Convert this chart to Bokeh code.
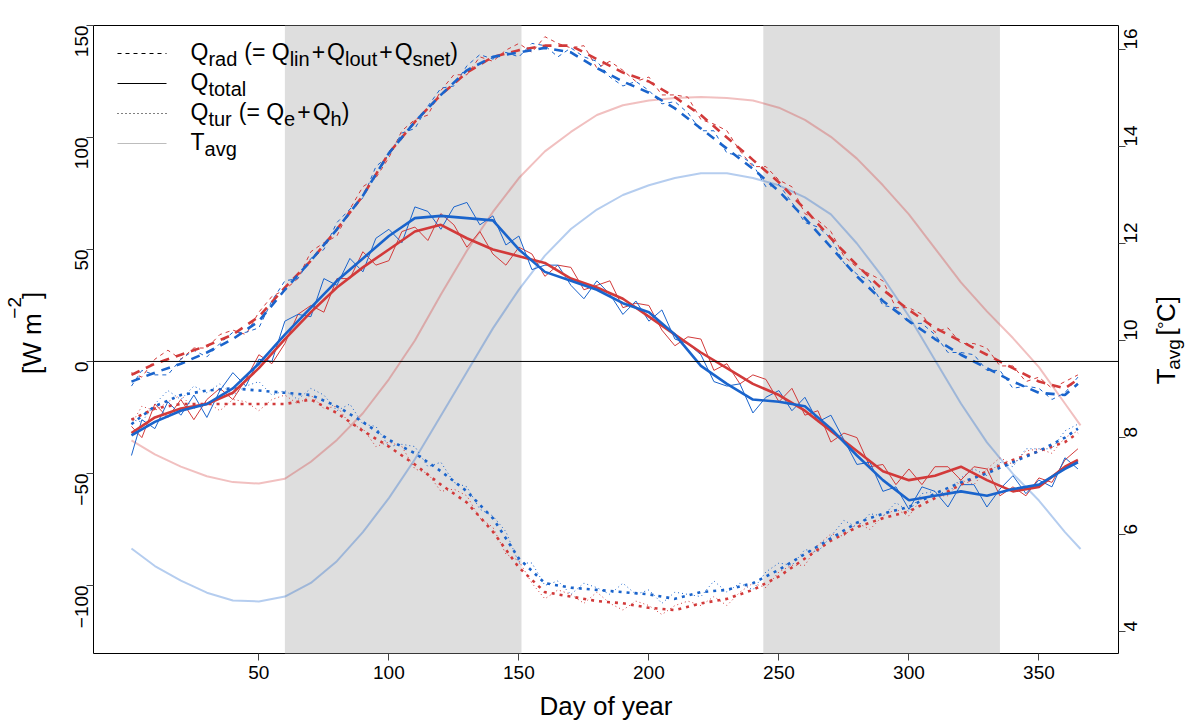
import math
from bokeh.plotting import figure
from bokeh.layouts import row, column
from bokeh.models import Range1d, LinearAxis, Span, BoxAnnotation, Label, FixedTicker, Plot
from bokeh.embed import file_html
from bokeh.resources import INLINE

# ---------------- data ----------------
season_start = [60, 244]
season_end = [151, 335]

days_smooth = [1] + list(range(10, 361, 10)) + [365]
days_temp = [1] + list(range(10, 361, 10)) + [366]
days_daily = [1] + list(range(5, 366, 5))

qrad_red_smooth = [-6, -1, 3, 7, 12, 20, 33, 45, 59, 74, 93, 107, 119, 129, 136, 139, 141, 141, 135, 129,
                   125, 118, 110, 100, 90, 80, 68, 55, 43, 32, 23, 15, 9, 3, -3, -9, -12, -8]
qrad_blue_smooth = [-9, -5, -1, 4, 10, 18, 32, 45, 59, 74, 93, 107, 119, 130, 136, 138, 140, 138, 131, 125,
                    120, 113, 104, 95, 86, 76, 64, 51, 38, 27, 18, 10, 3, -3, -9, -14, -15, -10]
qtot_blue_smooth = [-33, -27, -22, -19, -12, -1, 12, 24, 36, 46, 56, 64, 65, 64, 63, 50, 40, 36, 32, 26,
                    22, 12, -2, -10, -17, -18, -20, -30, -42, -53, -62, -60, -58, -60, -57, -55, -48, -45]
qtot_red_smooth = [-32, -25, -21, -19, -14, -3, 10, 22, 33, 42, 50, 58, 61, 55, 50, 47, 44, 37, 33, 28,
                   20, 12, 4, -3, -10, -15, -22, -31, -40, -49, -53, -51, -47, -53, -58, -56, -47, -44]
qtur_blue_smooth = [-28, -20, -15, -13, -12, -13, -14, -15, -20, -27, -35, -41, -49, -58, -70, -88, -99, -101, -102, -103,
                    -104, -106, -103, -102, -99, -93, -86, -79, -72, -68, -65, -59, -54, -50, -45, -40, -34, -30]
qtur_red_smooth = [-26, -21, -19, -19, -19, -19, -19, -17, -23, -31, -38, -46, -55, -63, -76, -92, -103, -105, -107, -108,
                   -110, -111, -108, -106, -102, -96, -88, -80, -74, -70, -67, -61, -55, -49, -44, -40, -36, -32]

tavg_blue = [5.71, 5.35, 5.05, 4.8, 4.64, 4.62, 4.72, 5.0, 5.45, 6.05, 6.75, 7.55, 8.45, 9.35, 10.25, 11.05,
             11.75, 12.3, 12.7, 13.0, 13.2, 13.35, 13.45, 13.45, 13.35, 13.2, 12.95, 12.6, 12.0, 11.3, 10.5,
             9.6, 8.7, 7.9, 7.25, 6.7, 6.05, 5.7]
tavg_red = [7.94, 7.65, 7.4, 7.2, 7.08, 7.05, 7.15, 7.5, 7.95, 8.5, 9.2, 10.0, 10.95, 11.85, 12.65, 13.35,
            13.9, 14.3, 14.65, 14.85, 14.95, 15.0, 15.02, 15.0, 14.95, 14.8, 14.55, 14.2, 13.75, 13.2, 12.6,
            11.9, 11.2, 10.6, 10.05, 9.45, 8.7, 8.25]

qrad_red_daily = [-5, -7, 1, 5, 1, 6, 6, 12, 14, 12,
                  22, 29, 32, 37, 49, 53, 56, 68, 78, 82,
                  91, 103, 108, 110, 121, 128, 128, 136, 134, 139,
                  142, 138, 145, 142, 140, 141, 131, 134, 130, 125,
                  127, 119, 119, 118, 108, 106, 103, 94, 87, 87,
                  81, 78, 66, 63, 58, 47, 42, 39, 36, 24,
                  24, 21, 13, 15, 8, 8, 6, -2, -2, -9,
                  -7, -12, -9, -6]
qrad_blue_daily = [-11, -4, -6, -6, 1, 5, 2, 8, 13, 13,
                   15, 27, 36, 37, 46, 50, 62, 68, 73, 87,
                   92, 102, 104, 114, 122, 123, 132, 137, 135, 138,
                   136, 142, 141, 136, 140, 136, 134, 127, 123, 125,
                   121, 115, 116, 111, 103, 103, 93, 92, 88, 78,
                   79, 71, 62, 60, 55, 44, 39, 36, 25, 24,
                   17, 17, 12, 4, 4, 3, -4, -4, -12, -11,
                   -12, -17, -14, -7]
qtot_blue_daily = [-42, -26, -30, -18, -24, -15, -25, -13, -5, -11,
                   1, 0, 18, 21, 20, 37, 34, 46, 40, 55,
                   59, 53, 69, 67, 59, 69, 71, 61, 65, 52,
                   56, 41, 43, 43, 34, 28, 36, 30, 21, 27,
                   18, 23, 10, 8, 3, -9, -11, -10, -23, -16,
                   -13, -22, -16, -27, -24, -35, -46, -45, -58, -56,
                   -66, -56, -58, -65, -55, -55, -65, -57, -51, -59,
                   -53, -56, -43, -48]
qtot_red_daily = [-29, -34, -19, -25, -17, -26, -17, -12, -17, -8,
                  3, -1, 8, 21, 25, 22, 37, 37, 49, 43,
                  45, 58, 60, 54, 66, 61, 51, 58, 48, 43,
                  51, 48, 38, 43, 42, 32, 34, 36, 24, 26,
                  25, 14, 7, 11, 10, -4, -1, -10, -6, -8,
                  -18, -12, -24, -22, -36, -32, -34, -47, -46, -55,
                  -48, -55, -47, -47, -53, -47, -48, -60, -56, -60,
                  -52, -54, -44, -39]
qtur_blue_daily = [-26, -27, -19, -13, -17, -11, -14, -10, -15, -11,
                   -9, -15, -13, -17, -12, -15, -22, -19, -28, -29,
                   -38, -37, -38, -47, -45, -54, -56, -66, -69, -76,
                   -90, -90, -100, -98, -104, -99, -101, -104, -99, -104,
                   -102, -108, -103, -104, -105, -98, -103, -99, -102, -94,
                   -90, -91, -84, -85, -78, -71, -74, -68, -69, -63,
                   -67, -59, -58, -59, -52, -48, -51, -45, -47, -39,
                   -39, -39, -31, -28]
qtur_red_daily = [-28, -20, -22, -18, -15, -21, -18, -22, -17, -18,
                  -22, -17, -15, -19, -15, -21, -20, -28, -30, -38,
                  -36, -38, -48, -50, -58, -57, -60, -70, -74, -86,
                  -89, -99, -106, -102, -104, -108, -103, -108, -111, -107,
                  -109, -113, -109, -107, -109, -105, -109, -103, -99, -101,
                  -94, -91, -91, -82, -77, -78, -72, -75, -69, -66,
                  -69, -61, -60, -60, -53, -55, -48, -43, -46, -40,
                  -39, -41, -34, -31]

x_ticks = [50, 100, 150, 200, 250, 300, 350]
y_ticks = [-100, -50, 0, 50, 100, 150]
t_ticks = [4, 6, 8, 10, 12, 14, 16]

# ---------------- styling / layout ----------------
FONT = "Liberation Sans"
BLUE = "#1a64cc"
RED = "#d23a3a"
X0, X1 = -13.6, 380.6
Y0, Y1 = -130.4, 150.0
T0, T1 = 3.546, 16.495
FL, FR, FT, FB = 93, 1118, 25, 653  # frame edges in page pixels
LEFT_W = 50          # width of the left title strip
MAIN_BL, MAIN_BR, MAIN_BB = FL - LEFT_W, 34, 37
MAIN_W = MAIN_BL + (FR - FL) + MAIN_BR
RIGHT_X = LEFT_W + MAIN_W
RIGHT_W = 1186 - RIGHT_X
MAIN_H = FT + (FB - FT) + MAIN_BB
BOTTOM_H = 724 - MAIN_H
BASE_FIX = 0.4       # label anchor correction (fraction of the font size)


def dx(px):
    return X0 + (px - FL) / (FR - FL) * (X1 - X0)


def dy(py):
    return Y1 - (py - FT) / (FB - FT) * (Y1 - Y0)


WM = {'Q': 778, 'r': 333, 'a': 556, 'd': 556, ' ': 278, '(': 333, '=': 584, 'l': 222, 'i': 222,
      'n': 556, '+': 584, 'o': 556, 'u': 556, 't': 278, 's': 500, 'e': 556, ')': 333, 'h': 556,
      'T': 611, 'v': 500, 'g': 556, '[': 278, ']': 278, 'W': 944, 'm': 833, '\u2212': 584,
      '2': 556, '\u00b0': 400, 'C': 722, 'D': 722, 'y': 500, 'f': 278}


def tw(s, size):
    return sum(WM.get(c, 556) for c in s) * size / 1000.0


p = figure(frame_width=FR - FL, frame_height=FB - FT,
           x_range=Range1d(X0, X1), y_range=Range1d(Y0, Y1),
           output_backend="svg", toolbar_location=None,
           min_border_left=MAIN_BL, min_border_right=MAIN_BR, min_border_top=FT, min_border_bottom=MAIN_BB)
p.extra_y_ranges = {"T": Range1d(T0, T1)}
p.xgrid.visible = False
p.ygrid.visible = False
p.outline_line_color = "black"
p.outline_line_width = 1
p.background_fill_color = "white"
p.border_fill_color = "white"

p.xaxis.ticker = FixedTicker(ticks=x_ticks)
p.yaxis.ticker = FixedTicker(ticks=y_ticks)
axR = LinearAxis(y_range_name="T", ticker=FixedTicker(ticks=t_ticks))
p.add_layout(axR, "right")

for ax in [p.xaxis[0], p.yaxis[0], axR]:
    ax.axis_line_color = None
    ax.major_tick_line_color = "#444444"
    ax.major_tick_out = 7
    ax.major_tick_in = 0
    ax.minor_tick_line_color = None
    ax.major_label_text_font = FONT
    ax.major_label_text_font_size = "19px"
    ax.major_label_text_color = "black"
    ax.major_label_standoff = 5
p.yaxis[0].major_label_orientation = math.pi / 2
axR.major_label_orientation = math.pi / 2

# shaded seasons
for s, e in zip(season_start, season_end):
    p.add_layout(BoxAnnotation(left=s, right=e, fill_color="#dedede", fill_alpha=1.0,
                               line_color=None, level="underlay"))

# temperature (right axis)
p.line(days_temp, tavg_red, y_range_name="T", line_color=RED, line_alpha=0.32, line_width=2)
p.line(days_temp, tavg_blue, y_range_name="T", line_color=BLUE, line_alpha=0.32, line_width=2)

series = [
    (qrad_red_daily, qrad_red_smooth, RED, "dashed"),
    (qrad_blue_daily, qrad_blue_smooth, BLUE, "dashed"),
    (qtur_red_daily, qtur_red_smooth, RED, "dotted"),
    (qtur_blue_daily, qtur_blue_smooth, BLUE, "dotted"),
    (qtot_red_daily, qtot_red_smooth, RED, "solid"),
    (qtot_blue_daily, qtot_blue_smooth, BLUE, "solid"),
]
thin_dash = {"dashed": "4 4", "dotted": "1 3", "solid": "solid"}
thick_dash = {"dashed": "9 7", "dotted": "3 5", "solid": "solid"}
for daily, smooth, col, kind in series:
    n = len(daily)
    p.line(days_daily[:n], daily, line_color=col, line_width=1, line_dash=thin_dash[kind])
for daily, smooth, col, kind in series:
    m = len(smooth)
    p.line(days_smooth[:m], smooth, line_color=col, line_width=2.6, line_dash=thick_dash[kind])

p.add_layout(Span(location=0, dimension="width", line_color="black", line_width=1))

# ---------------- legend (inside the frame) ----------------
LM, LS, SUB = 23, 20, 6
GP = 2
leg_rows = [
    ("dashed", "black", [("m", "Q"), ("s", "rad"), ("g", 7), ("m", "(= Q"), ("s", "lin"), ("g", GP), ("m", "+"),
                         ("g", GP), ("m", "Q"), ("s", "lout"), ("g", GP), ("m", "+"), ("g", GP), ("m", "Q"),
                         ("s", "snet"), ("m", ")")]),
    ("solid", "black", [("m", "Q"), ("s", "total")]),
    ("dotted", "black", [("m", "Q"), ("s", "tur"), ("g", 7), ("m", "(= Q"), ("s", "e"), ("g", GP), ("m", "+"),
                         ("g", GP), ("m", "Q"), ("s", "h"), ("m", ")")]),
    ("solid", "#bdbdbd", [("m", "T"), ("s", "avg")]),
]
row_y = [53, 83, 113, 143]
for (kind, col, pieces), ry in zip(leg_rows, row_y):
    p.line([dx(117), dx(166)], [dy(ry), dy(ry)], line_color=col, line_width=1, line_dash=thin_dash[kind])
    x = 190.0
    base = ry + 7.5
    for k, t in pieces:
        if k == "g":
            x += t
            continue
        size = LM if k == "m" else LS
        yb = base + (SUB if k == "s" else 0) - BASE_FIX * size
        p.add_layout(Label(x=dx(x), y=dy(yb), text=t, text_font=FONT, text_font_size=f"{size}px",
                           text_baseline="alphabetic", text_align="left", text_color="black"))
        x += tw(t, size)


# ---------------- title strips (plain plots without axes) ----------------
def strip(w, h):
    return Plot(width=w, height=h, x_range=Range1d(0, w), y_range=Range1d(0, h),
                output_backend="svg", toolbar_location=None, min_border=0, title=None,
                outline_line_color=None, background_fill_color="white", border_fill_color="white")


AM, AS = 26, 19


def vrich(f, pieces, xbase, ycenter, x_off, y_top):
    # pieces run upward (rotated 90 deg); positions given in page pixels
    total = sum((t if k == "g" else tw(t, AM if k == "m" else AS)) for k, t, _ in pieces)
    y = ycenter + total / 2.0
    for k, t, shift in pieces:
        if k == "g":
            y -= t
            continue
        size = AM if k == "m" else AS
        f.add_layout(Label(x=xbase + shift - BASE_FIX * size - x_off, y=y_top - y, text=t, text_font=FONT,
                           text_font_size=f"{size}px", angle=math.pi / 2, text_baseline="alphabetic",
                           text_align="left", text_color="black"))
        y -= tw(t, size)


left = strip(LEFT_W, MAIN_H)
vrich(left, [("m", "[W m", 0), ("s", "\u22122", -20), ("m", "]", 0)], 42, 338, 0, MAIN_H)

right = strip(RIGHT_W, MAIN_H)
vrich(right, [("m", "T", 0), ("s", "avg", 5), ("g", 7, 0), ("m", "[", 0), ("s", "\u00b0", -4),
              ("m", "C]", 0)], 1176, 347, RIGHT_X, MAIN_H)

bottom = strip(1186, BOTTOM_H)
bottom.add_layout(Label(x=605.5, y=724 - (716 - BASE_FIX * AM), text="Day of year", text_font=FONT,
                        text_font_size=f"{AM}px", text_baseline="alphabetic", text_align="center",
                        text_color="black"))

layout = column(row(left, p, right, spacing=0), bottom, spacing=0)
open("out.html", "w").write(file_html(layout, INLINE))
